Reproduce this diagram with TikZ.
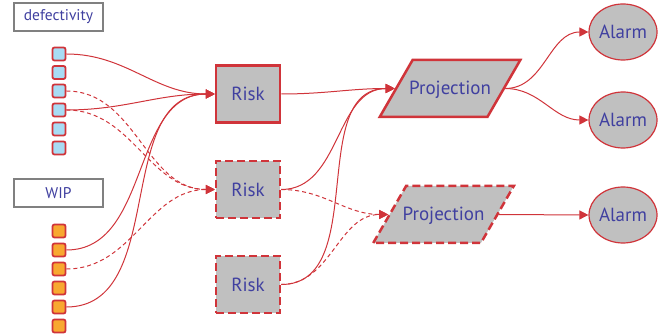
\documentclass[tikz,border=0pt]{standalone}
\usepackage{fontspec}
\setmainfont{PT Sans}
\usetikzlibrary{arrows.meta,shapes.geometric}
\definecolor{linkred}{RGB}{208,52,58}
\definecolor{txtblue}{RGB}{64,64,160}
\definecolor{boxgray}{RGB}{192,192,192}
\definecolor{sqblue}{RGB}{168,220,244}
\definecolor{sqorange}{RGB}{248,168,48}
\begin{document}
\begin{tikzpicture}[x=1pt,y=-1pt,
    lbl/.style={draw=gray,line width=2pt,fill=white,minimum width=89,minimum height=28,inner sep=0pt,text=txtblue,font=\fontsize{15.5}{18}\selectfont},
    sq/.style={draw=linkred,line width=1.8pt,rounded corners=2pt,minimum size=13,inner sep=0pt},
    risk/.style={draw=linkred,line width=2.5pt,fill=boxgray,minimum width=64,minimum height=57,inner sep=0pt,text=txtblue,font=\fontsize{19}{22}\selectfont},
    proj/.style={trapezium,trapezium left angle=60,trapezium right angle=120,draw=linkred,line width=2.5pt,fill=boxgray,inner xsep=-3.5pt,inner ysep=0pt,text height=35,text depth=22,text=txtblue,font=\fontsize{19}{22}\selectfont},
    alarm/.style={ellipse,draw=linkred,line width=1.2pt,fill=boxgray,minimum width=68,minimum height=56,inner sep=0pt,text=txtblue,font=\fontsize{19}{22}\selectfont},
    dsh/.style={dash pattern=on 8pt off 4pt},
    link/.style={draw=linkred,line width=1pt,-{Triangle[length=9pt,width=9pt]}},
    dlink/.style={link,dash pattern=on 4pt off 3pt}]
  \useasboundingbox (0,0) rectangle (660,336);

  \node[lbl] (defect) at (58.5,17) {defectivity};
  \node[lbl] (wip) at (58.5,193.5) {WIP};
  \foreach \i/\y in {1/54,2/72.5,3/91,4/110,5/129,6/148}
    \node[sq,fill=sqblue] (b\i) at (59,\y) {};
  \foreach \i/\y in {1/231,2/250,3/269,4/288,5/307,6/326}
    \node[sq,fill=sqorange] (o\i) at (59,\y) {};

  \node[risk] (r1) at (248,94) {Risk};
  \node[risk,dsh] (r2) at (248,189.5) {Risk};
  \node[risk,dsh] (r3) at (248,284.5) {Risk};

  \node[proj] (p1) at (450,88.5) {Projection};
  \node[proj,dsh] (p2) at (443.5,214.5) {Projection};

  \node[alarm] (a1) at (623,32) {Alarm};
  \node[alarm] (a2) at (623,120) {Alarm};
  \node[alarm] (a3) at (623,215) {Alarm};

  % inputs into the risk boxes
  \draw[link] (b1.east) to[out=0,in=180] (r1.west);
  \draw[link] (b4.east) to[out=0,in=180] (r1.west);
  \draw[link] (o2.east) to[out=0,in=180] (r1.west);
  \draw[link] (o5.east) to[out=0,in=180] (r1.west);
  \draw[dlink] (b3.east) to[out=0,in=180] (r2.west);
  \draw[dlink] (b4.east) to[out=0,in=180] (r2.west);
  \draw[dlink] (o3.east) to[out=0,in=180] (r2.west);

  % risks to projections
  \draw[link] (r1.east) to[out=0,in=180] (p1.west);
  \draw[link] (r2.east) to[out=0,in=180] (p1.west);
  \draw[link] (r3.east) to[out=0,in=180] (p1.west);
  \draw[dlink] (r2.east) to[out=0,in=180] (p2.west);
  \draw[dlink] (r3.east) to[out=0,in=180] (p2.west);

  % projections to alarms
  \draw[link] (p1.east) to[out=0,in=180] (a1.west);
  \draw[link] (p1.east) to[out=0,in=180] (a2.west);
  \draw[link] (p2.east) -- (a3.west);
\end{tikzpicture}
\end{document}
